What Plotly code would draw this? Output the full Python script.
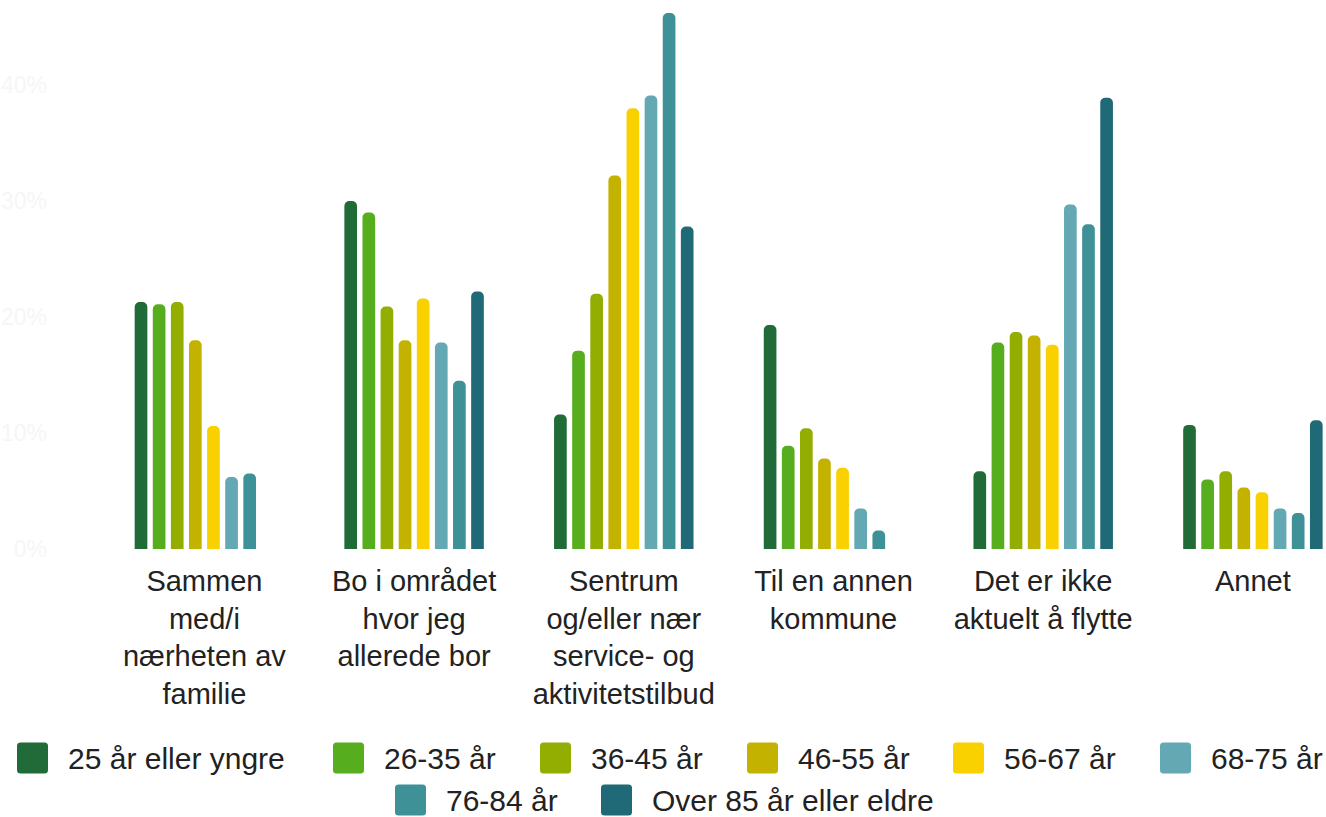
import plotly.graph_objects as go

# ---------------- data ----------------
categories = [
    "Sammen<br>med/i<br>nærheten av<br>familie",
    "Bo i området<br>hvor jeg<br>allerede bor",
    "Sentrum<br>og/eller nær<br>service- og<br>aktivitetstilbud",
    "Til en annen<br>kommune",
    "Det er ikke<br>aktuelt å flytte",
    "Annet",
]
series_names = [
    "25 år eller yngre",
    "26-35 år",
    "36-45 år",
    "46-55 år",
    "56-67 år",
    "68-75 år",
    "76-84 år",
    "Over 85 år eller eldre",
]
v_25 = [21.3, 30.0, 11.6, 19.3, 6.7, 10.7]
v_26_35 = [21.1, 29.0, 17.1, 8.9, 17.8, 6.0]
v_36_45 = [21.3, 20.9, 22.0, 10.4, 18.7, 6.7]
v_46_55 = [18.0, 18.0, 32.2, 7.8, 18.4, 5.3]
v_56_67 = [10.6, 21.6, 38.0, 7.0, 17.6, 4.9]
v_68_75 = [6.2, 17.8, 39.1, 3.5, 29.7, 3.5]
v_76_84 = [6.5, 14.5, 46.2, 1.6, 28.0, 3.1]
v_85 = [None, 22.2, 27.8, None, 38.9, 11.1]
series_values = [v_25, v_26_35, v_36_45, v_46_55, v_56_67, v_68_75, v_76_84, v_85]
y_ticks = [0, 10, 20, 30, 40]

# ---------------- style ----------------
colors = ["#216b38", "#56ae1f", "#93ad00", "#c4b200", "#f9d000",
          "#63a8b2", "#3f9198", "#1f6a76"]
FONT = "Liberation Sans, Arial, sans-serif"
W, H = 1326, 817
ML, MR, MT, MB = 60, 0, 5, 268
PW, PH = W - ML - MR, H - MT - MB
PX_PER_PCT = 11.6

# legend layout (pixel positions of swatch left edges and row centres)
legend_rows_y = [758, 800]
legend_items_x = [17, 333, 540, 747, 953, 1160, 395, 601]
legend_items_row = [0, 0, 0, 0, 0, 0, 1, 1]


def px_to_paper_x(px):
    return (px - ML) / PW


def px_to_paper_y(py):
    return (H - MB - py) / PH


fig = go.Figure()
for name, vals, col in zip(series_names, series_values, colors):
    fig.add_trace(go.Bar(
        name=name, x=categories, y=vals,
        marker=dict(color=col, line=dict(width=0)),
        showlegend=False,
    ))

# custom legend (swatches + text)
half = 15.5
r = 3.5
swatch_path = (
    f"M{-half},{-half + r} Q{-half},{-half} {-half + r},{-half} "
    f"L{half - r},{-half} Q{half},{-half} {half},{-half + r} "
    f"L{half},{half - r} Q{half},{half} {half - r},{half} "
    f"L{-half + r},{half} Q{-half},{half} {-half},{half - r} Z"
)
shapes = []
annotations = []
for name, col, lx, row in zip(series_names, colors, legend_items_x, legend_items_row):
    cy = legend_rows_y[row]
    shapes.append(dict(
        type="path", xref="paper", yref="paper",
        xsizemode="pixel", ysizemode="pixel",
        xanchor=px_to_paper_x(lx + half), yanchor=px_to_paper_y(cy),
        path=swatch_path, fillcolor=col, line=dict(width=0),
    ))
    annotations.append(dict(
        text=name, xref="paper", yref="paper",
        x=px_to_paper_x(lx + 49), y=px_to_paper_y(cy),
        xanchor="left", yanchor="middle", showarrow=False,
        font=dict(family=FONT, size=30, color="#222222"),
    ))

unit = 209.7
c0 = 204.4
x_lo = -(c0 - ML) / unit
x_hi = x_lo + PW / unit

fig.update_layout(
    width=W, height=H,
    margin=dict(l=ML, r=MR, t=MT, b=MB, autoexpand=False),
    paper_bgcolor="white", plot_bgcolor="white",
    barmode="group", bargap=0.309, bargroupgap=0.30,
    barcornerradius=5,
    showlegend=False,
    shapes=shapes, annotations=annotations,
    font=dict(family=FONT, color="#222222"),
    xaxis=dict(
        type="category", range=[x_lo, x_hi], automargin=False,
        showgrid=False, zeroline=False, showline=False, ticks="",
        tickfont=dict(family=FONT, size=29, color="#222222"),
        ticklabelstandoff=12,
        fixedrange=True,
    ),
    yaxis=dict(
        range=[0, PH / PX_PER_PCT], tickvals=y_ticks, automargin=False,
        ticktext=[f"{v}%" for v in y_ticks],
        showgrid=False, zeroline=False, showline=False, ticks="",
        tickfont=dict(family=FONT, size=23, color="#f6f6f6"),
        ticklabelstandoff=12,
        fixedrange=True,
    ),
)

fig.write_html(
    "out.html",
    config={"displayModeBar": False},
    post_script="document.body.style.margin='0';document.body.style.overflow='hidden';",
)
